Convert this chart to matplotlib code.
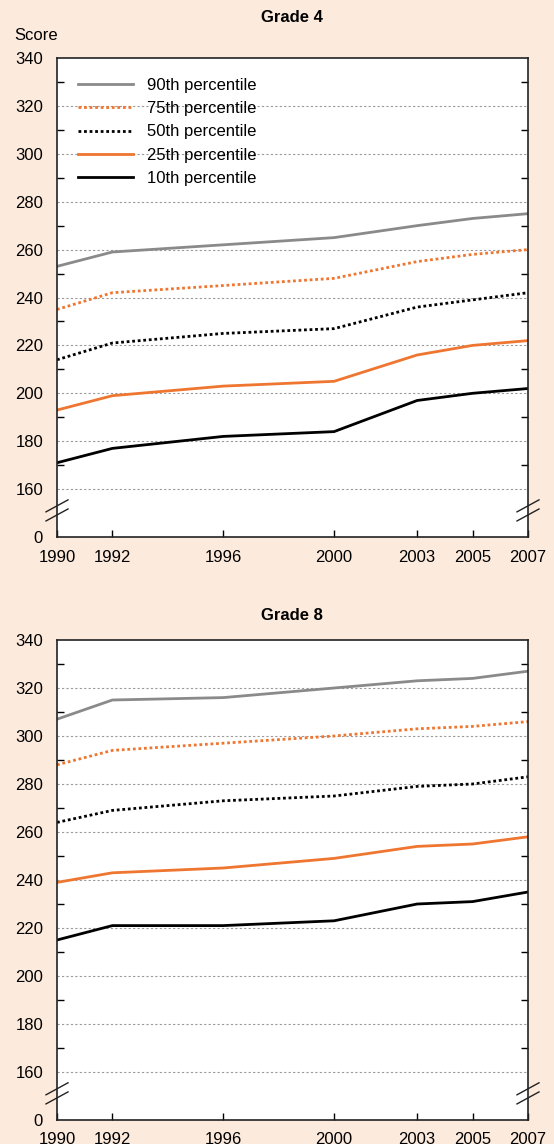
#!/usr/bin/env python3
"""NAEP mathematics score percentiles, grades 4 and 8"""
import matplotlib.pyplot as plt
import matplotlib.transforms as mtransforms

plt.rcParams['font.family'] = ['Liberation Sans', 'DejaVu Sans']

years = [1990, 1992, 1996, 2000, 2003, 2005, 2007]
labels = ['90th percentile', '75th percentile', '50th percentile',
          '25th percentile', '10th percentile']

g4 = {
    '90th percentile': [253, 259, 262, 265, 270, 273, 275],
    '75th percentile': [235, 242, 245, 248, 255, 258, 260],
    '50th percentile': [214, 221, 225, 227, 236, 239, 242],
    '25th percentile': [193, 199, 203, 205, 216, 220, 222],
    '10th percentile': [171, 177, 182, 184, 197, 200, 202],
}
g8 = {
    '90th percentile': [307, 315, 316, 320, 323, 324, 327],
    '75th percentile': [288, 294, 297, 300, 303, 304, 306],
    '50th percentile': [264, 269, 273, 275, 279, 280, 283],
    '25th percentile': [239, 243, 245, 249, 254, 255, 258],
    '10th percentile': [215, 221, 221, 223, 230, 231, 235],
}

bg = '#FCEADD'
orange = '#EE7630'
gray = '#8A8A8A'
dot = (0, (1, 1))
styles = {
    '90th percentile': dict(color=gray, ls='-'),
    '75th percentile': dict(color=orange, ls=dot),
    '50th percentile': dict(color='black', ls=dot),
    '25th percentile': dict(color=orange, ls='-'),
    '10th percentile': dict(color='black', ls='-'),
}
fs = 12

fig = plt.figure(figsize=(5.54, 11.44), dpi=100, facecolor=bg)
ax1 = fig.add_axes([57 / 554, 1 - 537 / 1144, 471 / 554, 479 / 1144])
ax2 = fig.add_axes([57 / 554, 1 - 1120 / 1144, 471 / 554, 480 / 1144])

for ax, data, title, ty in [(ax1, g4, 'Grade 4', 17), (ax2, g8, 'Grade 8', 615)]:
    ax.set_facecolor('white')
    for lab in labels:
        ax.plot(years, data[lab], lw=2, label=lab, **styles[lab])

    ax.set_xlim(1990, 2007)
    ax.set_ylim(140, 340)
    # y axis: labelled positions (0 sits at the break), short ticks at odd tens
    yt = [140] + list(range(160, 341, 20))
    ax.set_yticks(yt)
    ax.set_yticklabels(['0'] + [str(v) for v in range(160, 341, 20)])
    ax.set_yticks(list(range(170, 340, 20)), minor=True)
    ax.tick_params(axis='y', which='major', length=0, pad=10, labelsize=fs)
    ax.tick_params(axis='y', which='minor', direction='in', length=5,
                   width=1, right=True, left=True)
    ax.set_xticks(years)
    ax.tick_params(axis='x', direction='in', length=5, width=1, pad=9,
                   labelsize=fs)
    for v in range(160, 340, 20):
        ax.axhline(v, color='#9A9A9A', lw=0.8, ls=(0, (2, 2)), zorder=0)
    for sp in ax.spines.values():
        sp.set_linewidth(1.2)
        sp.set_color('#222222')

    fig.text(292 / 554, 1 - ty / 1144, title, fontsize=fs, fontweight='bold',
             ha='center', va='center')

    # axis break marks on both sides
    trans = mtransforms.blended_transform_factory(ax.transAxes, ax.transData)
    dx = 11 / 471
    for xc in (0, 1):
        for yc in (153, 149.2):
            ax.plot([xc - dx, xc + dx], [yc - 2.5, yc + 2.5], color='#222222',
                    lw=1, transform=trans, clip_on=False, zorder=6)

ax1.legend(loc='upper left', bbox_to_anchor=(0.013, 0.99), frameon=False,
           fontsize=fs, handlelength=3.3, handletextpad=0.85,
           labelspacing=0.5)
fig.text(14 / 554, 1 - 35 / 1144, 'Score', fontsize=fs, va='center')

plt.savefig('out.png', dpi=100, facecolor=bg)
